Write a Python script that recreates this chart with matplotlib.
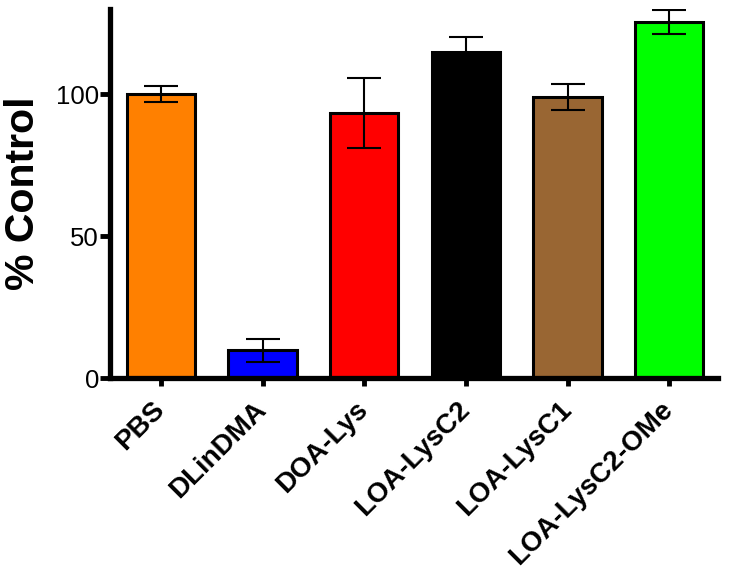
import matplotlib
matplotlib.use("Agg")
import matplotlib.pyplot as plt
import numpy as np

categories = ["PBS", "DLinDMA", "DOA-Lys", "LOA-LysC2", "LOA-LysC1", "LOA-LysC2-OMe"]
values = [100.0, 9.7, 93.3, 115.0, 99.0, 125.4]
errors = [2.9, 4.1, 12.3, 5.2, 4.5, 4.2]
colors = ["#FF8000", "#0000FF", "#FF0000", "#000000", "#996633", "#00FF00"]
yticks = [0, 50, 100]

plt.rcParams['font.family'] = ['Liberation Sans', 'DejaVu Sans']

fig = plt.figure(figsize=(7.29, 5.79), dpi=100)
ax = fig.add_axes([110/729, 1-378/579, (718-110)/729, (378-9)/579])

x = np.arange(len(categories))
ax.bar(x, values, width=0.67, color=colors, edgecolor="black", linewidth=2.2, zorder=2)
ax.errorbar(x, values, yerr=errors, fmt="none", ecolor="black", elinewidth=1.5,
            capsize=12.5, capthick=1.5, zorder=3)

ax.set_xlim(-0.5, 5.48)
ax.set_ylim(0, 130)
ax.set_yticks(yticks)
ax.set_yticklabels([str(t) for t in yticks], fontsize=18.5)
ax.set_xticks(x)
ax.set_xticklabels(categories, rotation=45, ha="right", va="center", rotation_mode="anchor",
                   fontsize=20, fontweight="bold")
ax.set_ylabel("% Control", fontsize=29.5, fontweight="bold", labelpad=10)

for s in ["top", "right"]:
    ax.spines[s].set_visible(False)
for s in ["left", "bottom"]:
    ax.spines[s].set_linewidth(3.8)
    ax.spines[s].set_zorder(4)

ax.tick_params(axis="y", length=7, width=3.5, pad=1)
ax.tick_params(axis="x", length=6, width=3.5, pad=14)

fig.savefig("out.png", dpi=100)
